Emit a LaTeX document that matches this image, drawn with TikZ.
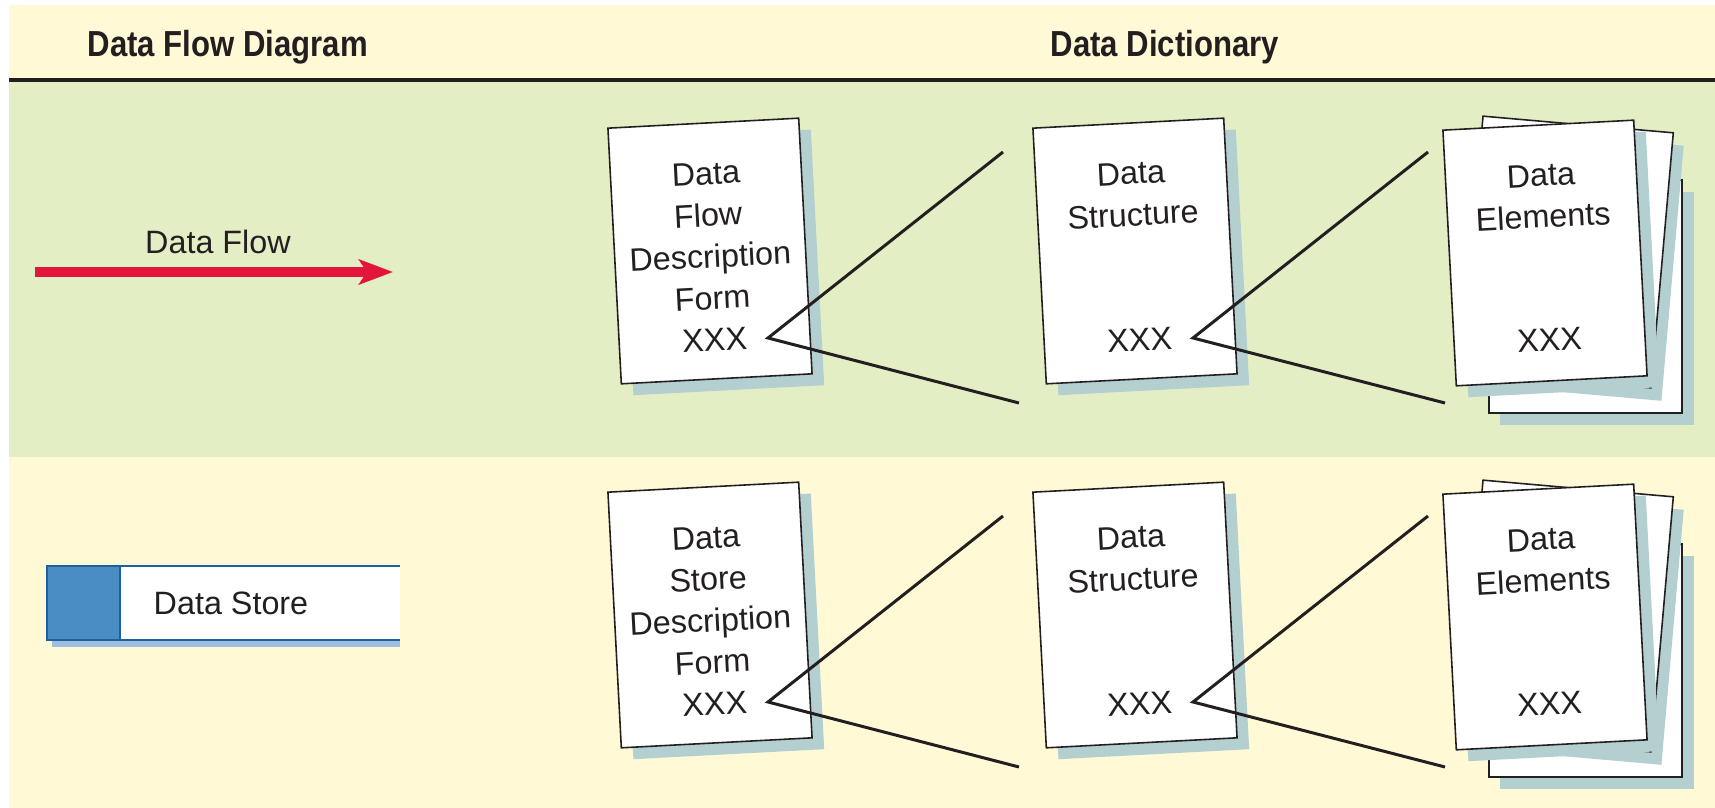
\documentclass[tikz,border=0pt]{standalone}
\usepackage{fontspec}
\setmainfont{Liberation Sans}
\newfontfamily\headfont[FakeStretch = 0.86]{Liberation Sans}
\usetikzlibrary{arrows.meta}

\definecolor{cream}{RGB}{255,249,214}
\definecolor{leaf}{RGB}{228,238,196}
\definecolor{ink}{RGB}{35,31,32}
\definecolor{shade}{RGB}{179,207,207}
\definecolor{flowred}{RGB}{225,22,58}
\definecolor{storeblue}{RGB}{74,140,196}
\definecolor{storeedge}{RGB}{28,96,160}
\definecolor{storeshade}{RGB}{158,192,222}

\tikzset{
    page/.style = {draw = ink, fill = white, line width = 0.45pt},
    pageshadow/.style = {fill = shade},
    doctext/.style = {text = ink, font = \fontsize{9.2}{11.8}\selectfont, align = center, inner sep = 0pt},
    headtext/.style = {text = ink, font = \headfont\bfseries\fontsize{10.3}{12}\selectfont, inner sep = 0pt, anchor = base west},
    joinline/.style = {draw = ink, line width = 0.85pt}
}

\begin{document}
\begin{tikzpicture}[x = 0.1mm, y = -0.1mm, > = {Stealth[length = 3.4mm, width = 2.5mm, inset = 0.8mm]}]

        % Background and the two bands.
        \useasboundingbox (0, 0) rectangle (1715, 808);
        \fill[white] (0, 0) rectangle (1715, 808);
        \fill[cream] (9, 5) rectangle (1715, 808);
        \fill[leaf] (9, 82) rectangle (1715, 457);
        \draw[ink, line width = 1.1pt] (9, 80) to (1715, 80);

        % Column headings.
        \node[headtext] (dfd) at (87, 57) {Data Flow Diagram};
        \node[headtext] (dd) at (1050, 57) {Data Dictionary};

        % Data flow symbol.
        \coordinate (flowA) at (35, 272);
        \coordinate (flowB) at (393, 272);
        \draw[->, draw = flowred, line width = 2.6pt] (flowA) to (flowB);
        \node[doctext] (flowname) at (218, 242) {Data Flow};

        % Data store symbol.
        \fill[storeshade] (52, 573) rectangle (400, 647);
        \fill[white] (47, 566) rectangle (400, 640);
        \fill[storeblue] (47, 566) rectangle (120, 640);
        \draw[storeedge, line width = 0.6pt] (400, 566) to (47, 566) to (47, 640) to (400, 640);
        \draw[storeedge, line width = 0.6pt] (120, 566) to (120, 640);
        \node[doctext, anchor = west] (storename) at (153, 603) {Data Store};

        % One row of dictionary pages for each symbol.
        \foreach \dy/\what in {0/Flow, 364/Store} {

            % Description form.
            \begin{scope}[shift = {(710, 251 + \dy)}, rotate = 3, transform shape]
                \fill[pageshadow] (-84, -116) rectangle (107, 140);
                \draw[page] (-95.5, -128) rectangle (95.5, 128);
                \node[doctext] (form\what) at (0, -15) {Data\\\what\\Description\\Form};
                \node[doctext] (formxxx\what) at (0, 89) {XXX};
            \end{scope}

            % Data structure.
            \begin{scope}[shift = {(1135, 251 + \dy)}, rotate = 3, transform shape]
                \fill[pageshadow] (-84, -116) rectangle (107, 140);
                \draw[page] (-95.5, -128) rectangle (95.5, 128);
                \node[doctext] (struct\what) at (0, -57) {Data\\Structure};
                \node[doctext] (structxxx\what) at (0, 89) {XXX};
            \end{scope}

            % Data elements, a stack of three pages.
            \fill[pageshadow] (1500, 192 + \dy) rectangle (1694, 425 + \dy);
            \draw[page] (1489, 180 + \dy) rectangle (1682, 413 + \dy);
            \begin{scope}[shift = {(1567, 252 + \dy)}, rotate = -5]
                \fill[pageshadow] (-84, -116) rectangle (107, 140);
                \draw[page] (-95.5, -128) rectangle (95.5, 128);
            \end{scope}
            \begin{scope}[shift = {(1545, 253 + \dy)}, rotate = 3, transform shape]
                \fill[pageshadow] (-84, -116) rectangle (107, 140);
                \draw[page] (-95.5, -128) rectangle (95.5, 128);
                \node[doctext] (elem\what) at (0, -57) {Data\\Elements};
                \node[doctext] (elemxxx\what) at (0, 87) {XXX};
            \end{scope}

            % Links from each page to the next one.
            \coordinate (tipA\what) at (768, 338 + \dy);
            \coordinate (upA\what) at (1003, 152 + \dy);
            \coordinate (downA\what) at (1019, 403 + \dy);
            \draw[joinline] (upA\what) to (tipA\what) to (downA\what);

            \coordinate (tipB\what) at (1193, 338 + \dy);
            \coordinate (upB\what) at (1428, 152 + \dy);
            \coordinate (downB\what) at (1445, 403 + \dy);
            \draw[joinline] (upB\what) to (tipB\what) to (downB\what);
        }
    \end{tikzpicture}
\end{document}
